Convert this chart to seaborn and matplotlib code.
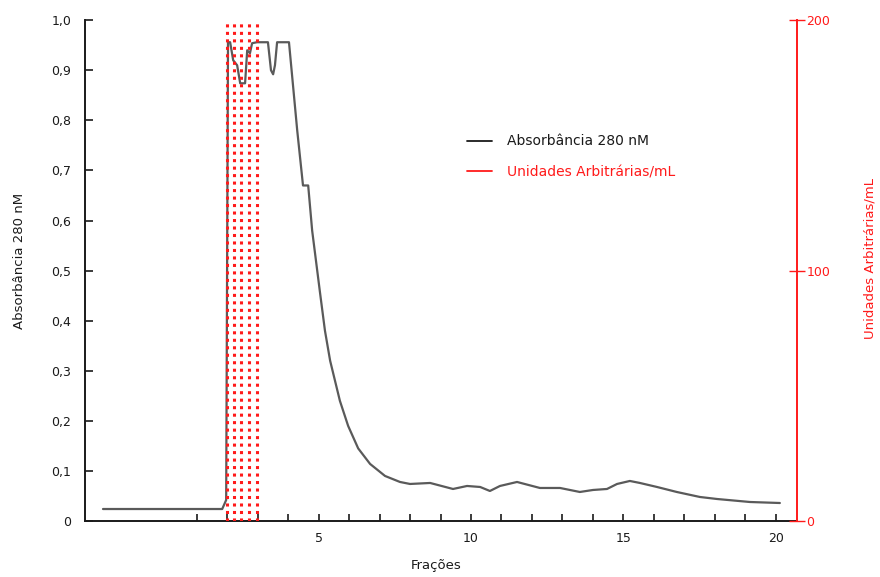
import matplotlib
matplotlib.use("Agg")
import matplotlib.pyplot as plt
from matplotlib.lines import Line2D
from matplotlib.ticker import FixedLocator, FuncFormatter
import seaborn as sns
import pandas as pd

# dados
fracoes = [-2.07, 1.84, 1.97, 2.03, 2.10, 2.20, 2.33, 2.43, 2.59, 2.66, 2.75, 2.82,
           2.98, 3.34, 3.44, 3.51, 3.57, 3.64, 4.03, 4.30, 4.49, 4.66, 4.79, 5.05,
           5.21, 5.38, 5.70, 5.97, 6.30, 6.69, 7.18, 7.67, 8.00, 8.66, 9.41, 9.87,
           10.30, 10.62, 10.95, 11.51, 12.26, 12.92, 13.57, 14.00, 14.46, 14.79,
           15.21, 15.54, 16.10, 16.75, 17.51, 18.07, 19.15, 20.13]
absorbancia = [0.024, 0.024, 0.042, 0.956, 0.956, 0.92, 0.91, 0.874, 0.874, 0.94,
               0.934, 0.954, 0.956, 0.956, 0.90, 0.892, 0.91, 0.956, 0.956, 0.78,
               0.67, 0.67, 0.58, 0.455, 0.38, 0.32, 0.24, 0.19, 0.145, 0.114, 0.09,
               0.078, 0.074, 0.076, 0.064, 0.07, 0.068, 0.06, 0.07, 0.078, 0.066,
               0.066, 0.058, 0.062, 0.064, 0.074, 0.08, 0.076, 0.068, 0.058, 0.048,
               0.044, 0.038, 0.036]

# atividade (Unidades Arbitrárias/mL)
frac_atividade = [1.99, 2.24, 2.46, 2.72, 2.97]
unidades = [200, 200, 200, 200, 200]

ticks_x = list(range(1, 21))
rotulos_x = [5, 10, 15, 20]
ticks_y = [0.0, 0.1, 0.2, 0.3, 0.4, 0.5, 0.6, 0.7, 0.8, 0.9, 1.0]
ticks_y2 = [0, 100, 200]

VERMELHO = "#ff1a1a"
ESCURO = "#1a1a1a"

sns.set_style("white")
plt.rcParams["font.family"] = ["DejaVu Sans"]

df = pd.DataFrame({"Frações": fracoes, "Absorbância": absorbancia})

fig = plt.figure(figsize=(8.8, 5.77), dpi=100)
ax = fig.add_axes([0.0966, 0.097, 0.809, 0.868])

sns.lineplot(data=df, x="Frações", y="Absorbância", ax=ax, sort=False,
             estimator=None, color="#5a5a5a", linewidth=1.6)
ax.set_xlim(-2.66, 20.69)
ax.set_ylim(0, 1.0)

ax.xaxis.set_major_locator(FixedLocator(ticks_x))
ax.xaxis.set_major_formatter(FuncFormatter(lambda v, p: str(int(round(v))) if int(round(v)) in rotulos_x else ""))
ax.yaxis.set_major_locator(FixedLocator(ticks_y))
ax.yaxis.set_major_formatter(FuncFormatter(lambda v, p: "0" if v == 0 else f"{v:.1f}".replace(".", ",")))

ax.tick_params(axis="x", direction="in", length=5, width=1.2, color=ESCURO,
               labelsize=9, labelcolor=ESCURO, pad=8, bottom=True)
ax.tick_params(axis="y", direction="in", length=6, width=1.2, color=ESCURO,
               labelsize=9, labelcolor=ESCURO, pad=10, left=True)

for lado in ["top", "right"]:
    ax.spines[lado].set_visible(False)
for lado in ["left", "bottom"]:
    ax.spines[lado].set_color(ESCURO)
    ax.spines[lado].set_linewidth(1.4)

ax.set_xlabel("Frações", fontsize=9.5, color=ESCURO)
ax.set_ylabel("Absorbância 280 nM", fontsize=9.5, color=ESCURO)
ax.xaxis.set_label_coords(0.493, -0.076)
ax.yaxis.set_label_coords(-0.083, 0.52)

# eixo secundário
ax2 = ax.twinx()
ax2.set_ylim(0, 200)
ax2.vlines(frac_atividade, 0, unidades, colors=VERMELHO, linewidth=2.2,
           linestyles=[(0, (1, 1.45))])
ax2.yaxis.set_major_locator(FixedLocator(ticks_y2))
ax2.tick_params(axis="y", direction="inout", length=11.5, width=1.0,
                color=VERMELHO, labelcolor=VERMELHO, labelsize=9, pad=1)
for lado in ["top", "left", "bottom"]:
    ax2.spines[lado].set_visible(False)
ax2.spines["right"].set_color(VERMELHO)
ax2.spines["right"].set_linewidth(1.4)
ax2.set_ylabel("Unidades Arbitrárias/mL", fontsize=9.5, color=VERMELHO)
ax2.yaxis.set_label_coords(1.094, 0.525)

handles = [Line2D([], [], color=ESCURO, linewidth=1.3),
           Line2D([], [], color=VERMELHO, linewidth=1.3)]
ax2.legend(handles, ["Absorbância 280 nM", "Unidades Arbitrárias/mL"],
           loc="upper left", bbox_to_anchor=(0.537, 0.772), frameon=False,
           fontsize=10, handlelength=1.75, handletextpad=1.1, labelspacing=1.2,
           borderpad=0, borderaxespad=0, labelcolor=[ESCURO, VERMELHO])

fig.savefig("out.png", dpi=100, facecolor="white")
